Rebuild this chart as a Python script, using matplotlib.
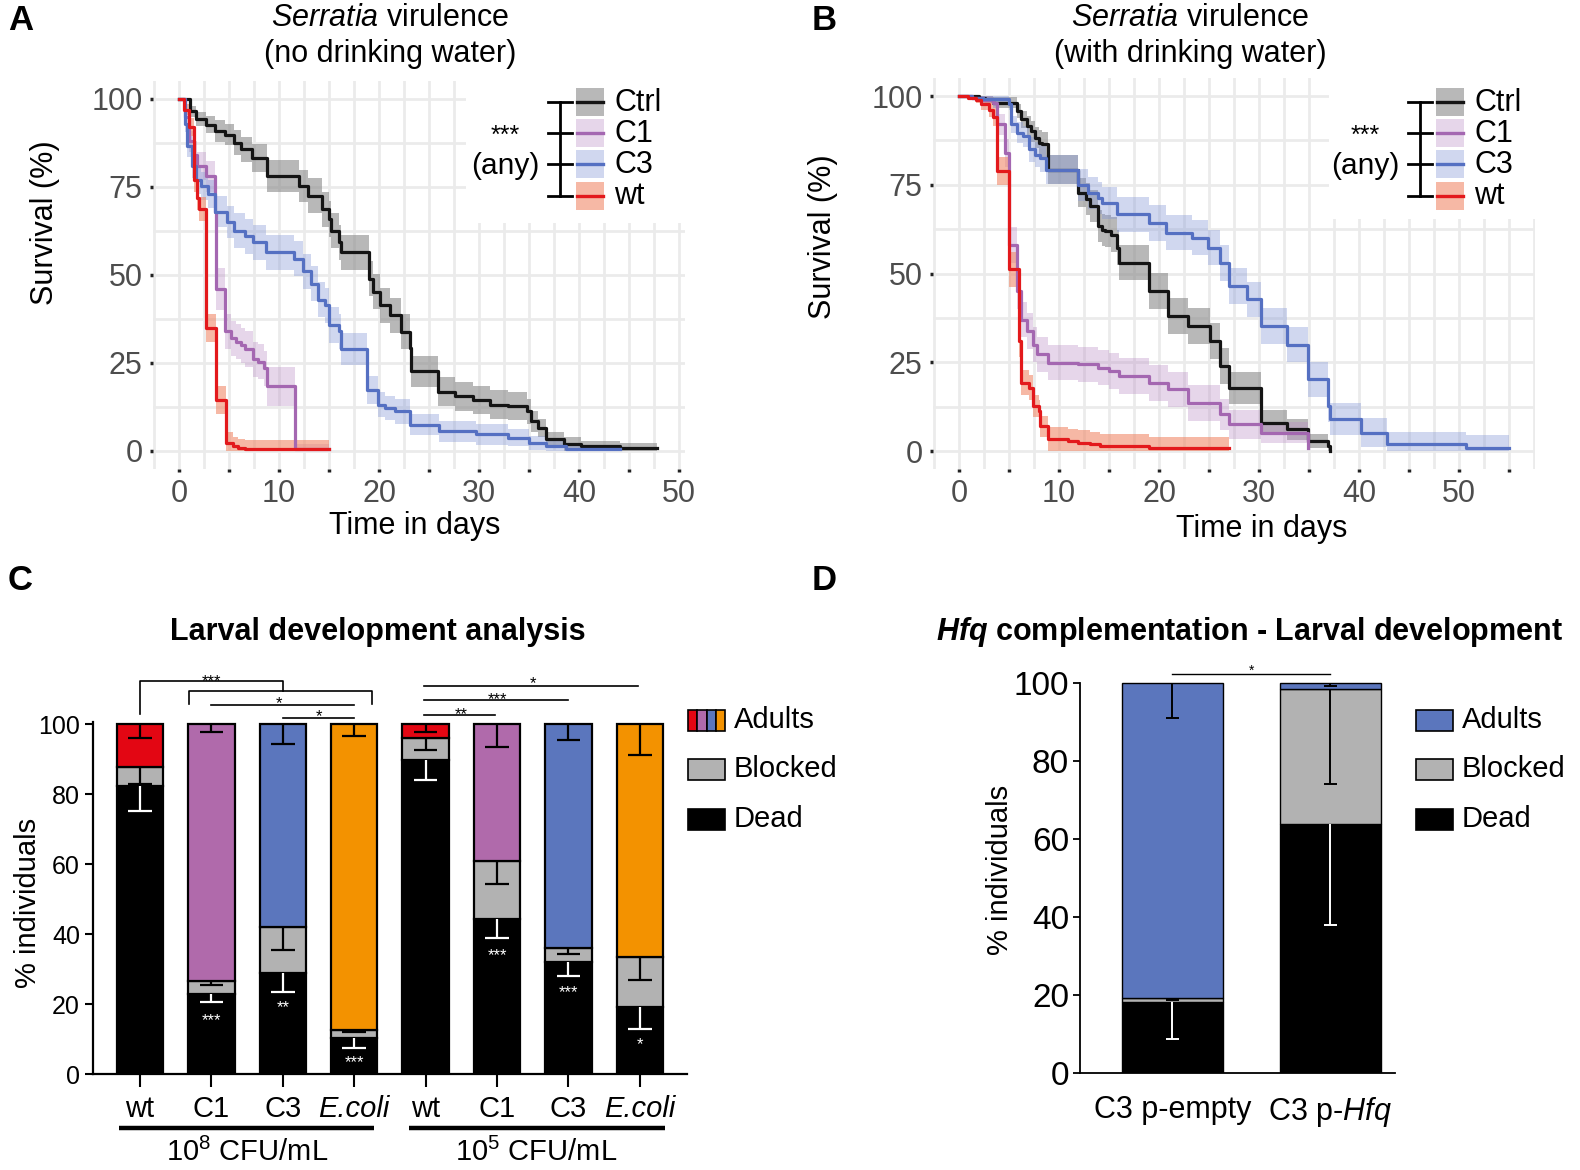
import numpy as np
import matplotlib
matplotlib.use('Agg')
import matplotlib.pyplot as plt
from matplotlib.patches import Rectangle

plt.rcParams['font.family'] = ['Liberation Sans', 'DejaVu Sans']
plt.rcParams['mathtext.fontset'] = 'custom'
plt.rcParams['mathtext.rm'] = 'Liberation Sans'
plt.rcParams['mathtext.it'] = 'Liberation Sans:italic'
plt.rcParams['mathtext.bf'] = 'Liberation Sans:bold'
try:
    plt.rcParams['mathtext.bfit'] = 'Liberation Sans:bold:italic'
    HAS_BFIT = True
except KeyError:
    HAS_BFIT = False

# ======================= DATA =======================
# Panel A (no drinking water): step start times (days), survival (%), CI half-width (%)
A_ctrl_t = [0, 1.05, 1.65, 2.7, 3.6, 4.6, 5.5, 6.2, 7.3, 8.8, 12.0, 12.9, 14.3, 15.0, 15.2, 16.0, 16.2, 19.0,
            19.4, 20.1, 21.1, 22.2, 23.1, 23.2, 25.9, 27.6, 29.4, 31.1, 32.9, 34.8, 35.2, 35.9, 36.7, 38.5, 40.2, 44.1]
A_ctrl_s = [100, 96.5, 94.2, 92.7, 90.9, 89.9, 87.6, 85.7, 83.3, 78.2, 75.3, 72.5, 68.7, 65.9, 62.6, 59.3, 56.5, 49.0,
            45.2, 41.4, 38.6, 33.9, 29.2, 22.6, 16.9, 15.5, 14.6, 13.2, 12.7, 11.3, 8.5, 6.6, 3.3, 1.9, 1.4, 0.9]
A_ctrl_ci = [0, 1.5, 2, 2.5, 3, 3, 3.5, 3.5, 4, 4.5, 4.5, 5, 5, 5, 5, 5, 5, 5,
             5, 5, 5, 5, 5, 4.5, 4, 4, 4, 4, 4, 3.5, 3, 2.5, 2, 2, 1.5, 1.5]
A_ctrl_end = 47.8

A_c1_t = [0, 0.6, 1.0, 1.5, 1.8, 2.7, 3.6, 3.7, 4.6, 5.2, 5.7, 6.2, 6.6, 7.4, 7.9, 8.5, 8.8, 11.6]
A_c1_s = [100, 95, 88, 84, 81, 78, 68, 46, 34, 32, 31, 30, 29, 26, 25.4, 23.5, 18.4, 0.5]
A_c1_ci = [0, 2, 3, 4, 4, 4.5, 5, 6, 5, 5, 5, 5, 5, 5, 5, 5, 5.5, 1.5]
A_c1_end = 15.0

A_c3_t = [0, 0.6, 0.8, 1.3, 1.65, 2.2, 2.9, 3.6, 4.8, 5.5, 6.6, 7.4, 8.7, 11.5, 12.4, 13.2, 13.9, 14.6, 15.0,
          16.0, 16.2, 18.8, 19.9, 20.6, 21.6, 23.1, 26.0, 29.7, 32.9, 35.0, 36.7, 38.7]
A_c3_s = [100, 93, 86.6, 81, 77, 75.3, 73, 68, 65, 62.6, 61, 59.3, 56.5, 54.6, 51, 47.5, 43, 41.4, 35.8,
          34, 29, 17.4, 13.2, 12.2, 11.3, 7.5, 5.6, 4.7, 3.8, 2.4, 1.4, 0.5]
A_c3_ci = [0, 2.5, 3, 3.5, 4, 4, 4, 4.5, 4.5, 5, 5, 5, 5, 5, 5, 5, 5, 5, 5,
           5, 4.5, 4, 3.5, 3.5, 3.5, 3, 3, 3, 2.5, 2, 1.5, 1]
A_c3_end = 44.1

A_wt_t = [0, 0.5, 1.0, 1.5, 1.8, 2.0, 2.7, 3.7, 4.7, 5.4, 5.9, 6.6]
A_wt_s = [100, 97, 92, 77, 72, 68.7, 35, 14.6, 2.4, 1.4, 0.9, 0.5]
A_wt_ci = [0, 1.5, 2.5, 3.5, 3.5, 3.5, 4, 4, 3, 2.5, 2.5, 2.5]
A_wt_end = 15.0

# Panel B (with drinking water)
B_ctrl_t = [0, 2.0, 2.6, 3.4, 5.8, 6.2, 6.8, 7.2, 7.6, 8.0, 8.3, 8.9, 11.9, 12.7, 13.1, 13.9, 14.3, 14.6, 15.2,
            15.8, 16.0, 19.0, 20.9, 22.9, 25.1, 26.1, 27.0, 30.2, 32.8, 34.9, 36.9, 37.1]
B_ctrl_s = [100, 99.5, 99.1, 98.1, 95.8, 93.4, 91.5, 90.1, 88.3, 86.9, 86.4, 79.3, 72.8, 70.9, 69.0, 63.4, 62.4,
            62.0, 61.0, 57.3, 53.1, 45.1, 38.0, 35.2, 31.0, 23.9, 17.8, 8.0, 6.1, 2.8, 1.4, 0]
B_ctrl_ci = [0, 0.5, 1, 1.5, 2, 2.5, 3, 3, 3, 3.5, 3.5, 4, 4, 4.5, 4.5, 4.5, 4.5, 4.5, 5,
             5, 5, 5, 5, 5, 5, 5, 4.5, 3.5, 3, 2, 1.5, 0]
B_ctrl_end = 37.1

B_c1_t = [0, 1.3, 2.4, 3.4, 3.8, 4.6, 5.0, 5.8, 6.2, 6.8, 7.4, 7.8, 8.9, 11.9, 13.9, 15.0, 16.0, 19.0, 20.9,
          22.9, 26.1, 27.0, 30.2, 34.9]
B_c1_s = [100, 99.5, 99, 98, 92, 84, 58, 45, 37, 33.8, 30, 27.2, 24.9, 24.4, 23.5, 22.5, 21.1, 19.2, 17.4,
          13.6, 10.3, 7.5, 5.2, 0.9]
B_c1_ci = [0, 0.5, 1, 1.5, 3, 4, 5, 5, 5, 5, 5, 5, 5, 5, 5, 5, 5, 5, 5, 5, 4.5, 4, 3, 1.5]
B_c1_end = 34.9

B_c3_t = [0, 1.3, 2.4, 5.0, 5.2, 5.8, 6.4, 7.0, 7.6, 8.1, 8.7, 11.9, 12.9, 13.9, 14.3, 15.8, 19.0, 20.7,
          23.3, 24.9, 26.1, 27.0, 28.8, 30.2, 32.8, 34.9, 36.9, 37.1, 40.2, 42.8, 50.7]
B_c3_s = [100, 99.5, 99.1, 97.7, 92, 89.7, 88.7, 85, 83.5, 82.6, 79.3, 75, 72.8, 71.4, 70, 66.7, 64.3, 61.5,
          60.1, 57.3, 53, 46.5, 42.7, 35.2, 30, 20.2, 12.7, 8.9, 5.2, 1.9, 0.9]
B_c3_ci = [0, 0.5, 1, 1.5, 2.5, 3, 3, 3.5, 3.5, 4, 4, 4.5, 4.5, 4.5, 4.5, 5, 5, 5,
           5, 5, 5, 5, 5, 5, 5, 5, 4.5, 4.5, 4, 3.5, 3.5]
B_c3_end = 55.0

B_wt_t = [0, 0.9, 1.7, 2.2, 3.0, 3.4, 3.8, 5.0, 6.0, 6.2, 7.0, 7.4, 8.0, 8.1, 8.9, 10.9, 11.9, 13.1, 14.1, 19.0]
B_wt_s = [100, 99.5, 99, 97.7, 96.2, 94, 78.9, 51.2, 31, 19.2, 17.8, 12.7, 11.3, 7, 3.3, 2.8, 2.3, 1.9, 1.4, 0.9]
B_wt_ci = [0, 0.5, 1, 1.5, 2, 2.5, 4, 5, 4.5, 3.5, 3.5, 3, 3, 3, 3.5, 3.5, 3.5, 3.5, 3.5, 3]
B_wt_end = 27.0

KM_names = ['Ctrl', 'C1', 'C3', 'wt']

# Panel C: larval development (stacked %, 8 conditions)
C_labels = ['wt', 'C1', 'C3', 'E.coli', 'wt', 'C1', 'C3', 'E.coli']
C_groups = [r'$10^{8}$ CFU/mL', r'$10^{5}$ CFU/mL']
C_dead = [82.4, 22.9, 28.9, 10.3, 89.7, 44.3, 32.1, 19.2]
C_blocked = [5.2, 3.6, 13.2, 2.3, 6.3, 16.5, 3.8, 14.1]
C_adults = [12.4, 73.5, 57.9, 87.4, 4.0, 39.2, 64.1, 66.7]
C_err_adults = [4.0, 2.4, 5.7, 3.5, 2.4, 6.7, 4.6, 8.8]
C_err_blocked = [4.6, 1.1, 6.7, 0.7, 3.4, 6.5, 1.6, 6.3]
C_err_dead = [7.2, 2.2, 5.6, 2.9, 5.7, 5.3, 4.0, 6.2]
C_star_txt = ['', '***', '**', '***', '', '***', '***', '*']
C_star_y = [0, 17.0, 20.5, 4.8, 0, 35.4, 24.8, 10.0]
C_legend = ['Adults', 'Blocked', 'Dead']

# Panel D: Hfq complementation
D_labels = ['C3 p-empty', r'C3 p-$\it{Hfq}$']
D_dead = [18.1, 63.9]
D_blocked = [1.0, 34.6]
D_adults = [80.9, 1.5]
D_err_adults = [8.8, 0.6]
D_err_blocked = [0.4, 24.4]
D_err_dead = [9.5, 26.0]

# ======================= STYLE =======================
LINE = {'Ctrl': '#141414', 'C1': '#a467b1', 'C3': '#5570c2', 'wt': '#e3191c'}
BAND = {'Ctrl': ('#8a8a8a', 0.6), 'C1': ('#b98ac4', 0.35), 'C3': ('#8497d6', 0.38), 'wt': ('#f08a6a', 0.6)}
ADULT_COLS = ['#e30613', '#b06aab', '#5b76bd', '#f39200'] * 2
GRAY = '#b2b2b2'
GRID = '#ebebeb'

W, H = 1580, 1170
fig = plt.figure(figsize=(W / 100, H / 100), dpi=100)


def rect(l, t, r, b):
    return [l / W, 1 - b / H, (r - l) / W, (b - t) / H]


def km_panel(ax, series, xlim, gridx, box):
    ax.set_xlim(*xlim)
    ax.set_ylim(-5, 105)
    for s in ax.spines.values():
        s.set_visible(False)
    for gx in gridx:
        ax.axvline(gx, color=GRID, lw=2.0, zorder=0)
    for gy in np.arange(0, 101, 12.5):
        ax.axhline(gy, color=GRID, lw=2.0, zorder=0)
    ax.add_patch(Rectangle((box[0], box[1]), 1.2 - box[0], 1.2 - box[1], transform=ax.transAxes,
                           facecolor='white', lw=0, zorder=1))
    for name, t, s, ci, end in series:
        tt = np.array(list(t) + [end])
        ss = np.array(list(s) + [s[-1]])
        cc = np.array(list(ci) + [ci[-1]])
        col, alp = BAND[name]
        ax.fill_between(tt, np.clip(ss - cc, 0, 100), np.clip(ss + cc, 0, 100), step='post',
                        color=col, alpha=alp, lw=0, zorder=2)
    for name, t, s, ci, end in series:
        tt = list(t) + [end]
        ss = list(s) + [s[-1]]
        ax.step(tt, ss, where='post', color=LINE[name], lw=2.3, zorder=4)
    ax.set_yticks([0, 25, 50, 75, 100])
    ax.set_xticks(np.arange(0, xlim[1], 10))
    ax.set_xticks(np.arange(5, xlim[1], 10), minor=True)
    ax.tick_params(which='both', length=2.5, width=2.5, color='#222222', labelsize=22,
                   labelcolor='#4d4d4d', pad=5)


# ---------------- Panel A ----------------
axA = fig.add_axes(rect(153, 81.4, 685, 468.6))
km_panel(axA, [('Ctrl', A_ctrl_t, A_ctrl_s, A_ctrl_ci, A_ctrl_end),
               ('C1', A_c1_t, A_c1_s, A_c1_ci, A_c1_end),
               ('C3', A_c3_t, A_c3_s, A_c3_ci, A_c3_end),
               ('wt', A_wt_t, A_wt_s, A_wt_ci, A_wt_end)],
         (-2.6, 50.6), np.arange(-2.5, 50.1, 2.5), (0.588, 0.635))

# ---------------- Panel B ----------------
axB = fig.add_axes(rect(933, 78.3, 1535, 468.8))
km_panel(axB, [('Ctrl', B_ctrl_t, B_ctrl_s, B_ctrl_ci, B_ctrl_end),
               ('C1', B_c1_t, B_c1_s, B_c1_ci, B_c1_end),
               ('C3', B_c3_t, B_c3_s, B_c3_ci, B_c3_end),
               ('wt', B_wt_t, B_wt_s, B_wt_ci, B_wt_end)],
         (-2.6, 57.6), np.arange(-2.5, 57.6, 2.5), (0.657, 0.64))


# ---------------- stacked bar helper ----------------
def stacked(ax, dead, blocked, adults, adult_cols, e_ad, e_bl, e_de, width, cap, elw, edge_lw):
    x = np.arange(len(dead))
    dead = np.array(dead); blocked = np.array(blocked); adults = np.array(adults)
    ax.bar(x, dead, width, color='black', edgecolor='black', lw=edge_lw, zorder=2)
    ax.bar(x, blocked, width, bottom=dead, color=GRAY, edgecolor='black', lw=edge_lw, zorder=2)
    ax.bar(x, adults, width, bottom=dead + blocked, color=adult_cols, edgecolor='black', lw=edge_lw, zorder=2)
    for tops, errs, col in [(dead + blocked + adults, e_ad, 'black'), (dead + blocked, e_bl, 'black'),
                            (dead, e_de, 'white')]:
        lows = tops - np.array(errs)
        ax.vlines(x, lows, tops, colors=col, lw=elw, zorder=3)
        ax.hlines(lows, x - cap, x + cap, colors=col, lw=elw, zorder=3)
    return x


# ---------------- Panel C ----------------
axC = fig.add_axes(rect(92.6, 668, 687, 1074))
xc = stacked(axC, C_dead, C_blocked, C_adults, ADULT_COLS, C_err_adults, C_err_blocked, C_err_dead,
             0.65, 0.165, 1.6, 1.6)
axC.set_xlim(-0.664, 7.66)
axC.set_ylim(0, 116)
for side in ['top', 'right']:
    axC.spines[side].set_visible(False)
axC.spines['left'].set_bounds(0, 100.5)
axC.spines['left'].set_linewidth(1.6)
axC.spines['bottom'].set_linewidth(1.6)
axC.set_yticks(np.arange(0, 101, 20))
axC.set_xticks(xc)
axC.set_xticklabels(C_labels)
for tl in axC.get_xticklabels():
    if tl.get_text() == 'E.coli':
        tl.set_fontstyle('italic')
axC.tick_params(axis='y', length=6, width=1.5, labelsize=18, pad=3)
axC.tick_params(axis='x', length=9, width=1.5, labelsize=21, pad=6)
for xi, txt, yy in zip(xc, C_star_txt, C_star_y):
    if txt:
        axC.text(xi, yy - 2.9, txt, color='white', fontsize=12, ha='center', va='baseline', zorder=5)

sig_lw = 1.2
# wt vs mutants bracket (10^8)
axC.plot([0, 0, 2.0, 2.0], [102.9, 112.2, 112.2, 109.3], color='black', lw=sig_lw, clip_on=False)
axC.plot([0.68, 0.68, 3.25, 3.25], [105.7, 109.3, 109.3, 105.7], color='black', lw=sig_lw, clip_on=False)
axC.plot([1.0, 2.99], [105.4, 105.4], color='black', lw=sig_lw, clip_on=False)
axC.plot([2.0, 2.99], [101.7, 101.7], color='black', lw=sig_lw, clip_on=False)
axC.text(1.0, 113.8 - 2.9, '***', fontsize=12, ha='center', va='baseline')
axC.text(1.95, 107.4 - 2.9, '*', fontsize=12, ha='center', va='baseline')
axC.text(2.5, 103.8 - 2.9, '*', fontsize=12, ha='center', va='baseline')
# 10^5
axC.plot([3.97, 6.97], [111.0, 111.0], color='black', lw=sig_lw, clip_on=False)
axC.plot([3.97, 6.0], [106.9, 106.9], color='black', lw=sig_lw, clip_on=False)
axC.plot([3.97, 4.97], [102.7, 102.7], color='black', lw=sig_lw, clip_on=False)
axC.text(5.5, 113.1 - 2.9, '*', fontsize=12, ha='center', va='baseline')
axC.text(5.0, 108.6 - 2.9, '***', fontsize=12, ha='center', va='baseline')
axC.text(4.5, 104.3 - 2.9, '**', fontsize=12, ha='center', va='baseline')
# group underlines
for (x0, x1, xt), g in zip([(-0.3, 3.27, 1.5), (3.77, 7.35, 5.55)], C_groups):
    axC.plot([x0, x1], [-15.3, -15.3], color='black', lw=3.2, clip_on=False, solid_capstyle='butt')
    axC.text(xt, -22.3, g, fontsize=21, ha='center', va='center')

# ---------------- Panel D ----------------
axD = fig.add_axes(rect(1080, 659.9, 1395, 1072.7))
xd = stacked(axD, D_dead, D_blocked, D_adults, ['#5b76bd', '#5b76bd'], D_err_adults, D_err_blocked,
             D_err_dead, 0.64, 0.042, 1.4, 1.0)
axD.set_xlim(-0.584, 1.41)
axD.set_ylim(0, 106)
for side in ['top', 'right']:
    axD.spines[side].set_visible(False)
axD.spines['left'].set_bounds(0, 100)
axD.spines['left'].set_linewidth(1.3)
axD.spines['bottom'].set_linewidth(1.3)
axD.set_yticks(np.arange(0, 101, 20))
axD.set_xticks(xd)
axD.set_xticklabels(D_labels)
axD.tick_params(axis='y', length=5, width=1.3, labelsize=24, pad=3)
axD.tick_params(axis='x', length=0, labelsize=22, pad=16)
axD.plot([0, 1.0], [102.4, 102.4], color='black', lw=1.0, clip_on=False)
axD.text(0.5, 104.3 - 2.2, '*', fontsize=10, ha='center', va='baseline')

# ---------------- overlay: letters, titles, legends ----------------
ov = fig.add_axes([0, 0, 1, 1], zorder=10)
ov.set_xlim(0, W)
ov.set_ylim(H, 0)
ov.axis('off')
ov.patch.set_visible(False)

for (lx, ly, L) in [(8, 21, 'A'), (812, 21, 'B'), (8, 581, 'C'), (812, 581, 'D')]:
    ov.text(lx, ly, L, fontsize=25, fontweight='bold', ha='left', va='center')

for cx, sub in [(390, '(no drinking water)'), (1190, '(with drinking water)')]:
    ov.text(cx, 18, r'$\it{Serratia}$ virulence', fontsize=22, ha='center', va='center')
    ov.text(cx, 54, sub, fontsize=22, ha='center', va='center')

ov.text(45, 223, 'Survival (%)', rotation=90, fontsize=22, ha='center', va='center')
ov.text(823, 237, 'Survival (%)', rotation=90, fontsize=22, ha='center', va='center')
ov.text(415, 526, 'Time in days', fontsize=22, ha='center', va='center')
ov.text(1262, 529, 'Time in days', fontsize=22, ha='center', va='center')


def km_legend(px):
    ys = [102, 133, 164, 195.5]
    for name, yc in zip(KM_names, ys):
        col, alp = BAND[name]
        ov.add_patch(Rectangle((px, yc - 14), 28, 28, facecolor=col, alpha=alp, lw=0))
        ov.plot([px + 1, px + 27], [yc, yc], color=LINE[name], lw=2.4)
        ov.text(px + 38, yc + 1, name, fontsize=22, ha='left', va='center')
    bx = px - 16
    ov.plot([bx, bx], [ys[0], ys[-1]], color='black', lw=2.0)
    for yc in ys:
        ov.plot([bx - 12, bx + 12], [yc, yc], color='black', lw=2.0)
    ov.text(px - 71, 143, '***', fontsize=18, ha='center', va='baseline')
    ov.text(px - 71, 166, '(any)', fontsize=21.5, ha='center', va='center')


km_legend(576)
km_legend(1436)

ov.text(378, 632, 'Larval development analysis', fontsize=22, fontweight='bold', ha='center', va='center')
if HAS_BFIT:
    dtitle = r'$\mathbfit{Hfq}$ complementation - Larval development'
else:
    dtitle = r'$\it{Hfq}$ complementation - Larval development'
ov.text(1250, 632, dtitle, fontsize=22, fontweight='bold', ha='center', va='center')
ov.text(28, 903, '% individuals', rotation=90, fontsize=21, ha='center', va='center')
ov.text(1000, 870, '% individuals', rotation=90, fontsize=21, ha='center', va='center')


def bar_legend(px, multi):
    ys = [720, 769, 819]
    pw, ph = 37, 21
    if multi:
        sw = pw / 4
        for k, c in enumerate(ADULT_COLS[:4]):
            ov.add_patch(Rectangle((px + k * sw, ys[0] - ph / 2), sw, ph, facecolor=c, edgecolor='black', lw=1.2))
    else:
        ov.add_patch(Rectangle((px, ys[0] - ph / 2), pw, ph, facecolor='#5b76bd', edgecolor='black', lw=1.2))
    ov.add_patch(Rectangle((px, ys[1] - ph / 2), pw, ph, facecolor=GRAY, edgecolor='black', lw=1.2))
    ov.add_patch(Rectangle((px, ys[2] - ph / 2), pw, ph, facecolor='black', edgecolor='black', lw=1.2))
    for lab, yc in zip(C_legend, ys):
        ov.text(px + 46, yc, lab, fontsize=21, ha='left', va='center')


bar_legend(688, True)
bar_legend(1416, False)

fig.savefig('out.png', dpi=100)
